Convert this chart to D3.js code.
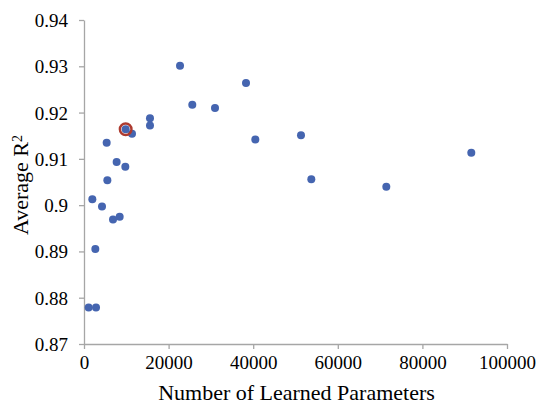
<!DOCTYPE html>
<html>
<head>
<meta charset="utf-8">
<script src="https://cdn.jsdelivr.net/npm/d3@7"></script>
</head>
<body style="margin:0;background:#fff">
<div id="chart"></div>
<script>
// learned parameters vs average R^2
var params = [1100, 2840, 2680, 1970, 4255, 6860, 8430, 5520, 9770, 7720, 5360,
              11350, 9850, 15600, 15600, 22700, 25600, 30970, 38300, 40500,
              51300, 53740, 71470, 91560];
var r2 = [0.8779, 0.8779, 0.8905, 0.9013, 0.8997, 0.8969, 0.8975, 0.9054, 0.9083, 0.9093, 0.9135,
          0.9154, 0.9164, 0.9188, 0.9172, 0.9301, 0.9217, 0.9210, 0.9264, 0.9142,
          0.9151, 0.9056, 0.9040, 0.9113];
var chosen = 12; // circled point

var xTicks = [0, 20000, 40000, 60000, 80000, 100000];
var yTicks = [0.87, 0.88, 0.89, 0.9, 0.91, 0.92, 0.93, 0.94];
var yLabels = ["0.87", "0.88", "0.89", "0.9", "0.91", "0.92", "0.93", "0.94"];

var width = 537, height = 407;
var font = "Liberation Serif";

var svg = d3.select("#chart").append("svg")
    .attr("width", width)
    .attr("height", height);

var x = d3.scaleLinear().domain([0, 100000]).range([84, 507]);
var y = d3.scaleLinear().domain([0.87, 0.94]).range([344, 20]);

var xAxis = svg.append("g")
    .attr("transform", "translate(0," + y(0.87) + ")")
    .call(d3.axisBottom(x).tickValues(xTicks).tickFormat(d3.format("d")).tickSize(5).tickSizeOuter(0).tickPadding(7));

var yAxis = svg.append("g")
    .attr("transform", "translate(" + x(0) + ",0)")
    .call(d3.axisLeft(y).tickValues(yTicks).tickFormat(function(d, i) { return yLabels[i]; }).tickSize(5).tickSizeOuter(0).tickPadding(11));

svg.selectAll("g").attr("font-family", font).attr("font-size", 19);
svg.selectAll(".domain, .tick line").attr("stroke", "#a6a6a6").attr("stroke-width", 1.3);
svg.selectAll(".tick text").attr("fill", "#000");
yAxis.selectAll(".tick text").attr("dy", "0.34em");

var pts = params.map(function(p, i) { return {x: p, y: r2[i]}; });

svg.append("g").selectAll("circle")
    .data(pts)
    .enter().append("circle")
    .attr("cx", function(d) { return x(d.x); })
    .attr("cy", function(d) { return y(d.y); })
    .attr("r", 4)
    .attr("fill", "#4565b0");

svg.append("circle")
    .attr("cx", x(pts[chosen].x))
    .attr("cy", y(pts[chosen].y))
    .attr("r", 5.8)
    .attr("fill", "none")
    .attr("stroke", "#ad3a2f")
    .attr("stroke-width", 2.4);

svg.append("text")
    .attr("x", (x(0) + x(100000)) / 2 + 1)
    .attr("y", 400)
    .attr("text-anchor", "middle")
    .attr("font-family", font)
    .attr("font-size", 22)
    .text("Number of Learned Parameters");

var yt = svg.append("text")
    .attr("transform", "translate(28,185) rotate(-90)")
    .attr("text-anchor", "middle")
    .attr("font-family", font)
    .attr("font-size", 22);
yt.append("tspan").text("Average R");
yt.append("tspan").attr("dy", "-0.45em").attr("font-size", 14).text("2");
</script>
</body>
</html>
